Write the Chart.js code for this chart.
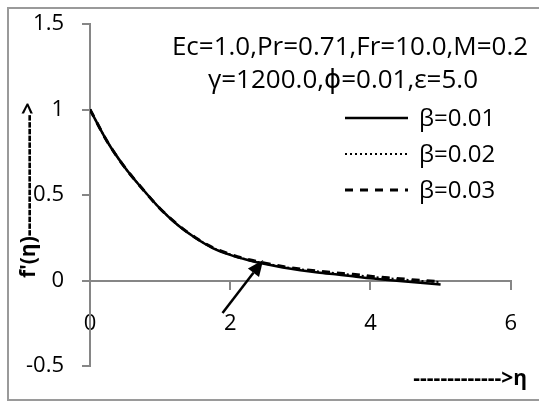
<!DOCTYPE html>
<html>
<head>
<meta charset="utf-8">
<script src="https://cdn.jsdelivr.net/npm/chart.js@4.4.1/dist/chart.umd.min.js"></script>
<style>
  html, body { margin: 0; padding: 0; background: #fff; }
  #wrap { width: 539px; height: 403px; }
</style>
</head>
<body>
<div id="wrap"><canvas id="grafico_eta" width="539" height="403"></canvas></div>
<script>
// datos
const eta = [0, 0.25, 0.5, 0.75, 1, 1.25, 1.5, 1.75, 2, 2.25, 2.5, 2.75, 3, 3.25, 3.5, 3.75, 4, 4.25, 4.5, 4.75, 5];
const beta001 = [1.0, 0.81, 0.66, 0.535, 0.42, 0.325, 0.25, 0.19, 0.15, 0.12, 0.096, 0.076, 0.06, 0.047, 0.036, 0.025, 0.013, 0.003, -0.006, -0.015, -0.023];
const beta002 = [1.0, 0.81, 0.66, 0.535, 0.42, 0.326, 0.251, 0.192, 0.152, 0.122, 0.1, 0.081, 0.065, 0.053, 0.043, 0.033, 0.022, 0.013, 0.005, -0.003, -0.009];
const beta003 = [1.0, 0.81, 0.66, 0.535, 0.42, 0.327, 0.252, 0.193, 0.153, 0.123, 0.101, 0.082, 0.067, 0.055, 0.045, 0.036, 0.025, 0.016, 0.008, 0.0, -0.006];
const seriesLabels = ['β=0.01', 'β=0.02', 'β=0.03'];
const xTicks = [0, 2, 4, 6];
const yTicks = [-0.5, 0, 0.5, 1, 1.5];
const paramLines = ['Ec=1.0,Pr=0.71,Fr=10.0,M=0.2', 'γ=1200.0,ϕ=0.01,ε=5.0'];
const xTitle = '------------->η';
const yTitle = "f'(η)------------------>";
// flecha: desde (eta, f') hasta (eta, f')
const arrowFrom = [1.89, -0.19];
const arrowTo = [2.47, 0.12];

const FONT = '"Open Sans", "DejaVu Sans", sans-serif';
const AXIS_GRIS = '#868686';

function puntos(ys) {
    return eta.map(function(x, i) { return { x: x, y: ys[i] }; });
}

// recuadro, titulos de ejes, leyenda y flecha
const decoracion = {
    id: 'decoracion',
    beforeDraw: function(chart) {
        const ctx = chart.ctx;
        ctx.save();
        ctx.strokeStyle = '#9a9a9a';
        ctx.lineWidth = 2;
        ctx.strokeRect(8, 8, 545, 392);
        ctx.restore();
    },
    afterDraw: function(chart) {
        const ctx = chart.ctx;
        const sx = chart.scales.x, sy = chart.scales.y;
        ctx.save();
        ctx.fillStyle = '#000';

        // parametros
        ctx.font = '26px ' + FONT;
        ctx.textAlign = 'center';
        ctx.textBaseline = 'alphabetic';
        ctx.fillText(paramLines[0], 350, 55);
        ctx.fillText(paramLines[1], 343, 88);

        // leyenda
        const filas = [118, 154, 190];
        chart.data.datasets.forEach(function(ds, i) {
            ctx.save();
            ctx.strokeStyle = ds.borderColor;
            ctx.lineWidth = ds.borderWidth;
            ctx.setLineDash(ds.borderDash || []);
            ctx.beginPath();
            ctx.moveTo(345, filas[i]);
            ctx.lineTo(408, filas[i]);
            ctx.stroke();
            ctx.restore();
            ctx.font = '24px ' + FONT;
            ctx.textAlign = 'left';
            ctx.textBaseline = 'middle';
            ctx.fillText(ds.label, 419, filas[i] + 1);
        });

        // titulos de ejes
        ctx.font = 'bold 21px ' + FONT;
        ctx.textAlign = 'right';
        ctx.textBaseline = 'middle';
        ctx.fillText(xTitle, 527, 379);

        ctx.save();
        ctx.translate(29, 278);
        ctx.rotate(-Math.PI / 2);
        ctx.textAlign = 'left';
        ctx.fillText(yTitle, 0, 0);
        ctx.restore();

        // flecha
        const x0 = sx.getPixelForValue(arrowFrom[0]), y0 = sy.getPixelForValue(arrowFrom[1]);
        const x1 = sx.getPixelForValue(arrowTo[0]), y1 = sy.getPixelForValue(arrowTo[1]);
        const ang = Math.atan2(y1 - y0, x1 - x0);
        const largo = 16, ancho = 7;
        const bx = x1 - largo * Math.cos(ang), by = y1 - largo * Math.sin(ang);
        ctx.strokeStyle = '#000';
        ctx.lineWidth = 2.5;
        ctx.beginPath();
        ctx.moveTo(x0, y0);
        ctx.lineTo(bx, by);
        ctx.stroke();
        ctx.beginPath();
        ctx.moveTo(x1, y1);
        ctx.lineTo(bx + ancho * Math.sin(ang), by - ancho * Math.cos(ang));
        ctx.lineTo(bx - ancho * Math.sin(ang), by + ancho * Math.cos(ang));
        ctx.closePath();
        ctx.fill();
        ctx.restore();
    }
};

new Chart(document.getElementById('grafico_eta'), {
    type: 'line',
    data: {
        datasets: [
            { label: seriesLabels[0], data: puntos(beta001), borderColor: '#000', borderWidth: 2.5, borderDash: [], pointRadius: 0, cubicInterpolationMode: 'monotone', order: 0 },
            { label: seriesLabels[1], data: puntos(beta002), borderColor: '#000', borderWidth: 2, borderDash: [2, 3], pointRadius: 0, cubicInterpolationMode: 'monotone', order: 1 },
            { label: seriesLabels[2], data: puntos(beta003), borderColor: '#000', borderWidth: 3, borderDash: [8, 7], pointRadius: 0, cubicInterpolationMode: 'monotone', order: 2 }
        ]
    },
    options: {
        responsive: false,
        animation: false,
        devicePixelRatio: 1,
        layout: { padding: { left: 0, top: 24, right: 17, bottom: 37 } },
        plugins: {
            legend: { display: false },
            tooltip: { enabled: false }
        },
        scales: {
            x: {
                type: 'linear',
                min: 0,
                max: 6,
                position: { y: 0 },
                afterBuildTicks: function(scale) { scale.ticks = xTicks.map(function(v) { return { value: v }; }); },
                border: { display: true, color: AXIS_GRIS, width: 2 },
                grid: { drawOnChartArea: false, drawTicks: true, tickLength: 8, color: AXIS_GRIS, lineWidth: 2 },
                ticks: { padding: 22, color: '#000', font: { family: FONT, size: 22 }, maxRotation: 0, callback: function(v) { return String(v); } }
            },
            y: {
                type: 'linear',
                min: -0.5,
                max: 1.5,
                position: 'left',
                afterBuildTicks: function(scale) { scale.ticks = yTicks.map(function(v) { return { value: v }; }); },
                afterFit: function(scale) { scale.width = 90; scale.paddingTop = 0; scale.paddingBottom = 0; },
                border: { display: true, color: AXIS_GRIS, width: 2 },
                grid: { drawOnChartArea: false, drawTicks: true, tickLength: 8, color: AXIS_GRIS, lineWidth: 2 },
                ticks: { padding: 18, color: '#000', font: { family: FONT, size: 22 }, callback: function(v) { return String(v); } }
            }
        }
    },
    plugins: [decoracion]
});
</script>
</body>
</html>
